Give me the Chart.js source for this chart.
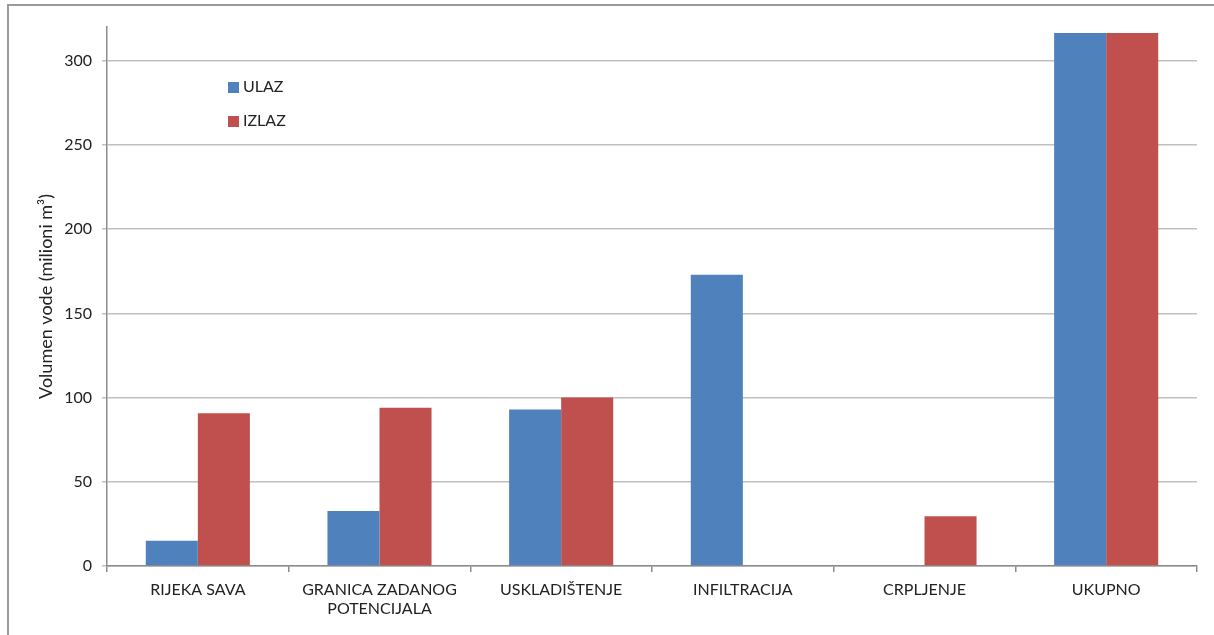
<!DOCTYPE html>
<html>
<head>
<meta charset="utf-8">
<script src="https://cdn.jsdelivr.net/npm/chart.js@4"></script>
<style>
    html, body { margin: 0; padding: 0; background: #fff; }
    #wrap { position: relative; width: 1214px; height: 635px; }
    #frame {
        position: absolute; left: 7px; top: 4px; width: 1214px; height: 640px;
        border-left: 2px solid #9a9a9a; border-top: 2px solid #9a9a9a;
        pointer-events: none;
    }
    #legend {
        position: absolute; left: 228px; top: 76px;
        font-family: Lato, 'Liberation Sans', sans-serif; font-size: 16px; color: #222;
    }
    #legend div { height: 34px; line-height: 20px; }
    #legend span.box { display: inline-block; width: 11px; height: 11px; margin-right: 4px; vertical-align: -1px; }
</style>
</head>
<body>
<div id="wrap">
    <canvas id="chart" width="1214" height="635"></canvas>
    <div id="frame"></div>
    <div id="legend"></div>
</div>
<script>
// podaci
const categories = ['RIJEKA SAVA', ['GRANICA ZADANOG', 'POTENCIJALA'], 'USKLADIŠTENJE', 'INFILTRACIJA', 'CRPLJENJE', 'UKUPNO'];
const ulaz = [15.0, 32.7, 92.9, 172.9, 0, 316.5];
const izlaz = [90.7, 93.9, 100.0, 0, 29.5, 316.5];
const seriesNames = ['ULAZ', 'IZLAZ'];
const yTicks = [0, 50, 100, 150, 200, 250, 300];

const blue = '#4F81BD';
const red = '#C0504D';
const fontFamily = "Lato, 'Liberation Sans', sans-serif";

// legenda (HTML)
const legend = document.getElementById('legend');
[[seriesNames[0], blue], [seriesNames[1], red]].forEach(([name, col]) => {
    const row = document.createElement('div');
    row.innerHTML = '<span class="box" style="background:' + col + '"></span>' + name;
    legend.appendChild(row);
});

new Chart(document.getElementById('chart'), {
    type: 'bar',
    data: {
        labels: categories,
        datasets: [
            { label: seriesNames[0], data: ulaz, backgroundColor: blue },
            { label: seriesNames[1], data: izlaz, backgroundColor: red }
        ]
    },
    options: {
        responsive: false,
        animation: false,
        layout: { padding: { left: 35, top: 27, right: 17, bottom: 0 } },
        datasets: { bar: { barPercentage: 1, categoryPercentage: 0.573 } },
        plugins: { legend: { display: false }, tooltip: { enabled: false } },
        scales: {
            y: {
                min: 0,
                max: 320,
                afterBuildTicks: (scale) => { scale.ticks = yTicks.map(v => ({ value: v })); },
                afterFit: (scale) => { scale.width = 72; },
                ticks: { color: '#222', padding: 10, font: { family: fontFamily, size: 16 } },
                grid: { color: '#c0c0c0', lineWidth: 1.5, tickLength: 5 },
                border: { color: '#8c8c8c', width: 1.5 },
                title: {
                    display: true,
                    text: 'Volumen vode (milioni m³)',
                    color: '#222',
                    font: { family: fontFamily, size: 18 },
                    padding: 0
                }
            },
            x: {
                afterFit: (scale) => { scale.height = 69; },
                ticks: { color: '#222', padding: 8, font: { family: fontFamily, size: 16 } },
                grid: { drawOnChartArea: false, color: '#8c8c8c', lineWidth: 1.5, tickLength: 6 },
                border: { color: '#8c8c8c', width: 1.5 }
            }
        }
    }
});
</script>
</body>
</html>
